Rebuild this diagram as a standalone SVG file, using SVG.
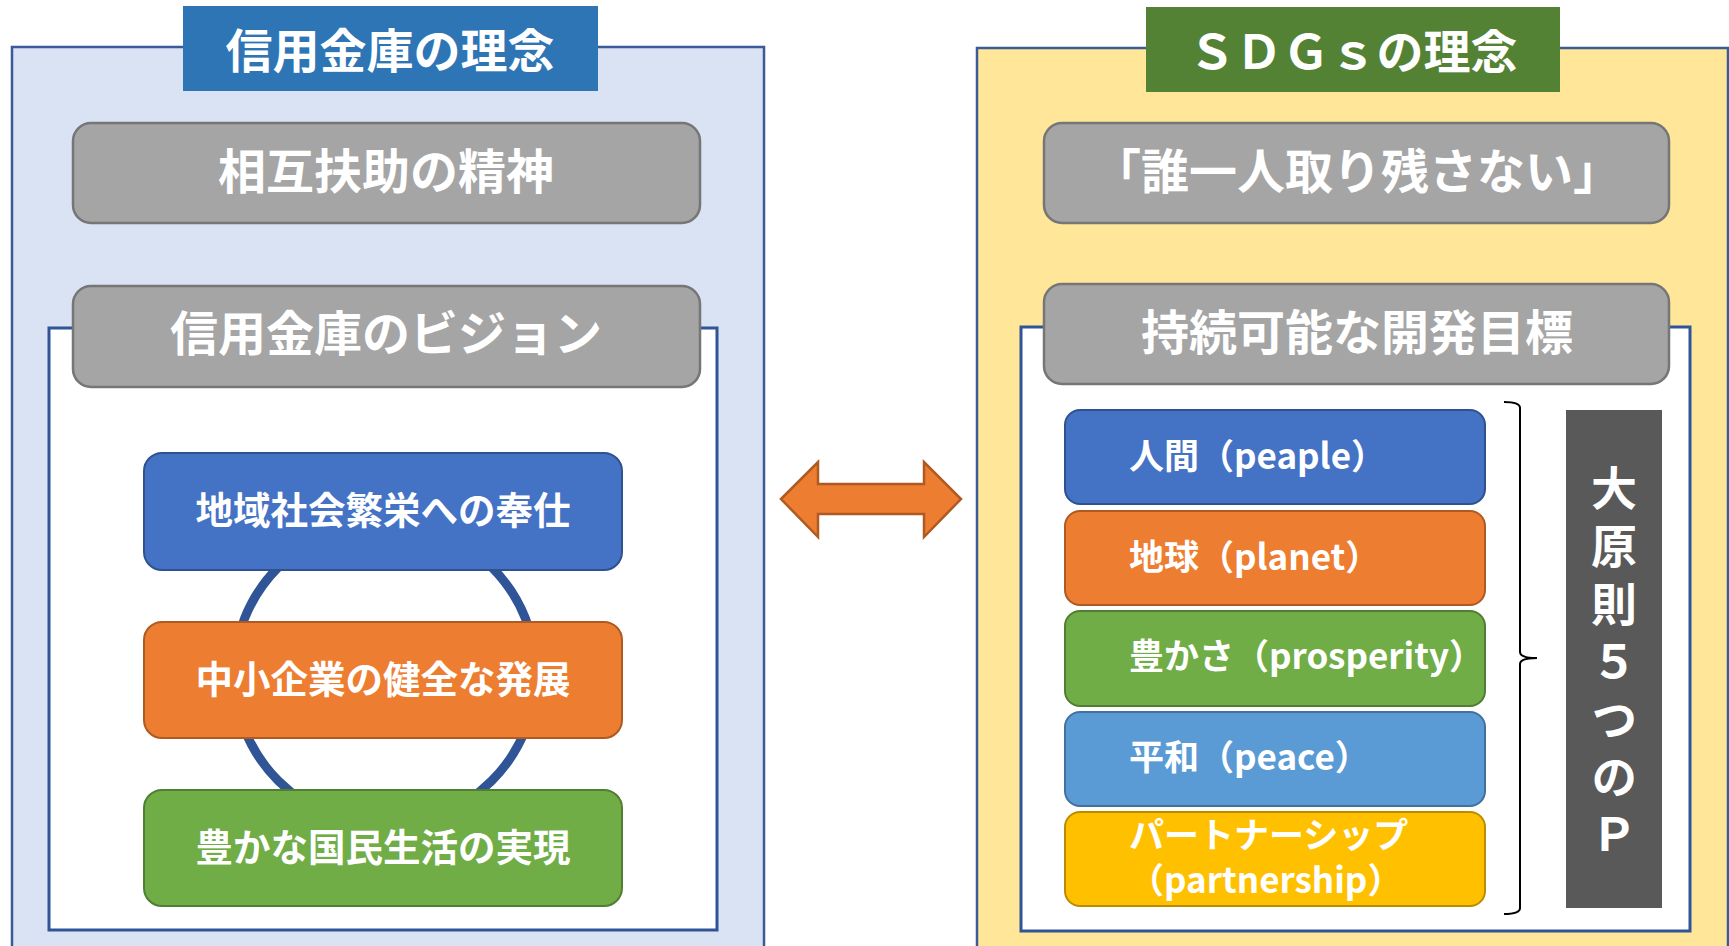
<svg xmlns="http://www.w3.org/2000/svg" width="1729" height="946" viewBox="0 0 1729 946">
<style>
text{font-family:"Noto Sans CJK JP","Noto Sans",sans-serif;font-weight:bold;fill:#fff;dominant-baseline:central}
.c{text-anchor:middle}
.outer{stroke:#3A5A98;stroke-width:2.5}
.inner{fill:#fff;stroke:#2F5597;stroke-width:3}
.gray{fill:#A5A5A5;stroke:#767676;stroke-width:2.5}
.t1{font-size:47px}
.t2{font-size:48px}
.t3{font-size:37.5px}
.t4{font-size:35px}
.vt{font-size:46px;writing-mode:vertical-rl;letter-spacing:11.7px}
</style>
<rect width="1729" height="946" fill="#fff"/>
<g id="left-panel">
<rect class="outer" x="12" y="47" width="752" height="920" fill="#DAE3F3"/>
<rect x="183" y="6" width="415" height="85" fill="#2E75B6"/>
<text class="c t1" x="390" y="47">信用金庫の理念</text>
</g>
<g id="mutual-aid">
<rect class="gray" x="73" y="123" width="627" height="100" rx="18"/>
<text class="c t2" x="386" y="168">相互扶助の精神</text>
</g>
<g id="vision-frame">
<rect class="inner" x="49" y="328" width="668" height="602"/>
</g>
<g id="ring">
<circle cx="385" cy="674" r="151" fill="none" stroke="#2F5597" stroke-width="9"/>
</g>
<g id="vision-title">
<rect class="gray" x="73" y="286" width="627" height="101" rx="18"/>
<text class="c t2" x="386" y="330">信用金庫のビジョン</text>
</g>
<g id="vision-1">
<rect x="144" y="453" width="478" height="117" rx="18" fill="#4472C4" stroke="#2F528F" stroke-width="2"/>
<text class="c t3" x="383" y="507">地域社会繁栄への奉仕</text>
</g>
<g id="vision-2">
<rect x="144" y="622" width="478" height="116" rx="18" fill="#ED7D31" stroke="#AE5A21" stroke-width="2"/>
<text class="c t3" x="383" y="676">中小企業の健全な発展</text>
</g>
<g id="vision-3">
<rect x="144" y="790" width="478" height="116" rx="18" fill="#70AD47" stroke="#507E32" stroke-width="2"/>
<text class="c t3" x="383" y="844">豊かな国民生活の実現</text>
</g>
<g id="right-panel">
<rect class="outer" x="977" y="48" width="751" height="920" fill="#FFE699"/>
<rect x="1146" y="7" width="414" height="85" fill="#548235"/>
<text class="c t1" x="1353" y="48">ＳＤＧｓの理念</text>
</g>
<g id="no-one-left-behind">
<rect class="gray" x="1044" y="123" width="625" height="100" rx="18"/>
<text class="c t2" x="1357" y="168">「誰一人取り残さない」</text>
</g>
<g id="sdgs-frame">
<rect class="inner" x="1021" y="327" width="669" height="604"/>
</g>
<g id="sdgs-title">
<rect class="gray" x="1044" y="284" width="625" height="100" rx="18"/>
<text class="c t2" x="1357" y="329">持続可能な開発目標</text>
</g>
<g id="p-people">
<rect x="1065" y="410" width="420" height="94" rx="15" fill="#4472C4" stroke="#2F528F" stroke-width="2"/>
<text class="t4" x="1129" y="453">人間（peaple）</text>
</g>
<g id="p-planet">
<rect x="1065" y="511" width="420" height="94" rx="15" fill="#ED7D31" stroke="#AE5A21" stroke-width="2"/>
<text class="t4" x="1129" y="554">地球（planet）</text>
</g>
<g id="p-prosperity">
<rect x="1065" y="611" width="420" height="95" rx="15" fill="#70AD47" stroke="#507E32" stroke-width="2"/>
<text class="t4" x="1129" y="653">豊かさ（prosperity）</text>
</g>
<g id="p-peace">
<rect x="1065" y="712" width="420" height="94" rx="15" fill="#5B9BD5" stroke="#41719C" stroke-width="2"/>
<text class="t4" x="1129" y="754">平和（peace）</text>
</g>
<g id="p-partnership">
<rect x="1065" y="812" width="420" height="94" rx="15" fill="#FFC000" stroke="#BC8C00" stroke-width="2"/>
<text class="t4"><tspan x="1129" y="832">パートナーシップ</tspan><tspan x="1129" y="877">（partnership）</tspan></text>
</g>
<g id="five-p">
<rect x="1566" y="410" width="96" height="498" fill="#595959"/>
<text class="vt" x="1614" y="465">大原則５つのＰ</text>
</g>
<g id="connectors">
<polygon points="781,499 818,462 818,484 924,484 924,462 961,499 924,537 924,514 818,514 818,537" fill="#ED7D31" stroke="#AE5A21" stroke-width="2.5"/>
<path d="M1504,402 Q1520,402 1520,408 L1520,652 Q1520,658 1537,658 Q1520,658 1520,664 L1520,908 Q1520,914 1504,914" fill="none" stroke="#000" stroke-width="2"/>
</g>
</svg>
